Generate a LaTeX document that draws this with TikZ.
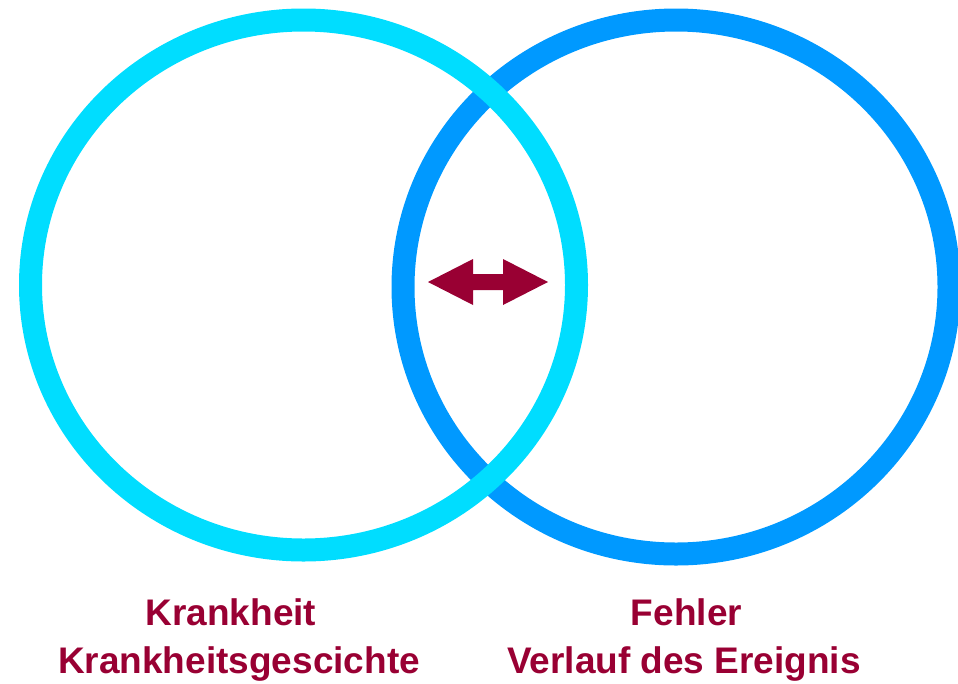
\documentclass[tikz,border=0pt]{standalone}
\usepackage{fontspec}
\setmainfont{Liberation Sans}
\definecolor{cyanring}{HTML}{00DDFF}
\definecolor{bluering}{HTML}{0099FF}
\definecolor{wine}{HTML}{990033}
\begin{document}
\begin{tikzpicture}[x=1pt,y=-1pt,
  ring/.style={line width=23pt},
  lbl/.style={text=wine, font=\bfseries\fontsize{37}{44}\selectfont, anchor=base, inner sep=0pt},
  dblarrow/.style={fill=wine}]
\useasboundingbox (0,0) rectangle (958,683);
\draw[ring, draw=bluering] (676,287) ellipse [x radius=273pt, y radius=267pt];
\draw[ring, draw=cyanring] (303.5,285) ellipse [x radius=273pt, y radius=265pt];
\fill[dblarrow] (428,282) -- (473,259) -- (473,274) -- (503,274) -- (503,259) -- (548,282)
  -- (503,305) -- (503,290) -- (473,290) -- (473,305) -- cycle;
\node[lbl] (k1) at (231,625) {Krankheit};
\node[lbl] (k2) at (239,673) {Krankheitsgescichte};
\node[lbl] (f1) at (686.5,625) {Fehler};
\node[lbl] (f2) at (684,673) {Verlauf des Ereignis};
\end{tikzpicture}
\end{document}
